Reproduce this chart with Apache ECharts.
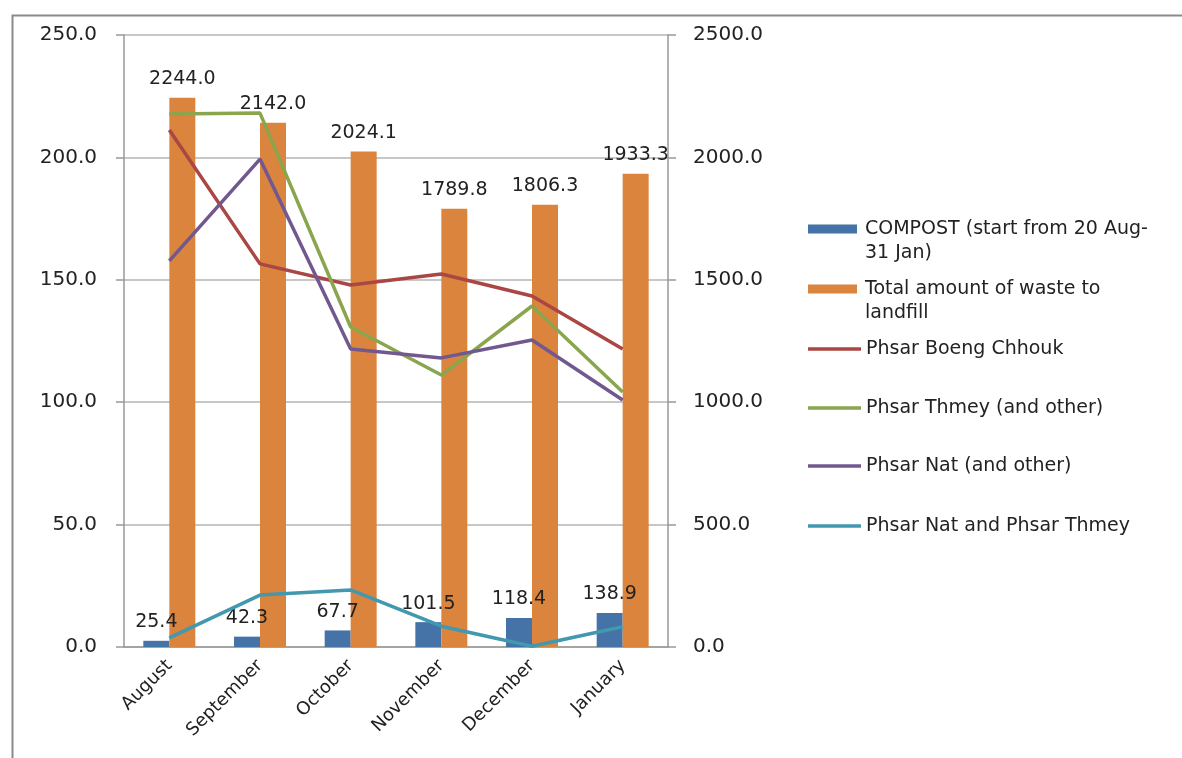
<!DOCTYPE html>
<html>
<head>
<meta charset="utf-8">
<script src="https://cdn.jsdelivr.net/npm/echarts@6/dist/echarts.min.js"></script>
<style>html,body{margin:0;padding:0;background:#fff;}#chart{width:1182px;height:758px;}</style>
</head>
<body>
<div id="chart"></div>
<script>
const months = ['August', 'September', 'October', 'November', 'December', 'January'];
const compost = [25.4, 42.3, 67.7, 101.5, 118.4, 138.9];
const totalLandfill = [2244.0, 2142.0, 2024.1, 1789.8, 1806.3, 1933.3];
const boengChhouk = [211.2, 156.5, 147.9, 152.4, 143.4, 121.7];
const thmey = [217.7, 218.1, 130.7, 111.1, 139.3, 104.2];
const nat = [157.7, 199.3, 121.7, 118.1, 125.4, 100.9];
const natAndThmey = [3.7, 21.2, 23.3, 8.5, 0.3, 8.3];
const leftTicks = { min: 0, max: 250, interval: 50 };
const rightTicks = { min: 0, max: 2500, interval: 500 };

const names = {
  compost: 'COMPOST (start from 20 Aug-31 Jan)',
  total: 'Total amount of waste to landfill',
  boeng: 'Phsar Boeng Chhouk',
  thmey: 'Phsar Thmey (and other)',
  nat: 'Phsar Nat (and other)',
  natThmey: 'Phsar Nat and Phsar Thmey'
};
const colors = {
  compost: '#4572A7', total: '#DB843D', boeng: '#AA4643',
  thmey: '#89A54E', nat: '#71588F', natThmey: '#4198AF'
};
const FONT = 'DejaVu Sans';

function legendAt(name, top, isBar, fmt) {
  return {
    data: [{ name: name, icon: 'rect' }],
    left: 808, top: top, orient: 'vertical', padding: 0,
    itemWidth: isBar ? 49 : 53, itemHeight: isBar ? 9 : 3.5,
    selectedMode: false,
    formatter: fmt || '{name}',
    textStyle: { fontFamily: FONT, fontSize: 19, color: '#222', lineHeight: 24, padding: isBar ? [0, 0, 0, 3] : 0 }
  };
}

const chart = echarts.init(document.getElementById('chart'));
chart.setOption({
  animation: false,
  backgroundColor: '#fff',
  graphic: [{
    type: 'rect', left: 10, top: 13, z: -1,
    shape: { width: 1220, height: 800 },
    style: { fill: 'none', stroke: '#8a8a8a', lineWidth: 2 }
  }],
  grid: { left: 124, right: 514, top: 35, bottom: 111, containLabel: false },
  legend: [
    legendAt(names.compost, 193, true, function () { return ' \nCOMPOST (start from 20 Aug-\n31 Jan)'; }),
    legendAt(names.total, 253, true, function () { return ' \nTotal amount of waste to\nlandfill'; }),
    legendAt(names.boeng, 337, false),
    legendAt(names.thmey, 396, false),
    legendAt(names.nat, 454, false),
    legendAt(names.natThmey, 514, false)
  ],
  xAxis: {
    type: 'category', data: months,
    axisLine: { lineStyle: { color: '#999', width: 1.5 } },
    axisTick: { length: 8, lineStyle: { color: '#999', width: 1.5 } },
    axisLabel: { rotate: 45, fontFamily: FONT, fontSize: 18, color: '#222', margin: 16 }
  },
  yAxis: [{
    type: 'value', min: leftTicks.min, max: leftTicks.max, interval: leftTicks.interval, position: 'left',
    axisLine: { show: true, lineStyle: { color: '#999', width: 1.5 } },
    axisTick: { show: true, length: 8, lineStyle: { color: '#999', width: 1.5 } },
    splitLine: { lineStyle: { color: '#b4b4b4', width: 1.5 } },
    axisLabel: { formatter: v => v.toFixed(1), fontFamily: FONT, fontSize: 20, color: '#222', margin: 27 }
  }, {
    type: 'value', min: rightTicks.min, max: rightTicks.max, interval: rightTicks.interval, position: 'right',
    axisLine: { show: true, lineStyle: { color: '#999', width: 1.5 } },
    axisTick: { show: true, length: 8, lineStyle: { color: '#999', width: 1.5 } },
    splitLine: { show: false },
    axisLabel: { formatter: v => v.toFixed(1), fontFamily: FONT, fontSize: 20, color: '#222', margin: 25 }
  }],
  series: [{
    name: names.compost, type: 'bar', yAxisIndex: 1, data: compost,
    barWidth: 26, barGap: '0%', itemStyle: { color: colors.compost },
    label: { show: true, position: 'top', distance: 9, formatter: p => p.value.toFixed(1),
      fontFamily: FONT, fontSize: 19, color: '#222' }
  }, {
    name: names.total, type: 'bar', yAxisIndex: 1, data: totalLandfill,
    barWidth: 26, barGap: '0%', itemStyle: { color: colors.total },
    label: { show: true, position: 'top', distance: 9, formatter: p => p.value.toFixed(1),
      fontFamily: FONT, fontSize: 19, color: '#222' }
  }, {
    name: names.boeng, type: 'line', yAxisIndex: 0, data: boengChhouk, symbol: 'none',
    lineStyle: { color: colors.boeng, width: 3.5 }, itemStyle: { color: colors.boeng }
  }, {
    name: names.thmey, type: 'line', yAxisIndex: 0, data: thmey, symbol: 'none',
    lineStyle: { color: colors.thmey, width: 3.5 }, itemStyle: { color: colors.thmey }
  }, {
    name: names.nat, type: 'line', yAxisIndex: 0, data: nat, symbol: 'none',
    lineStyle: { color: colors.nat, width: 3.5 }, itemStyle: { color: colors.nat }
  }, {
    name: names.natThmey, type: 'line', yAxisIndex: 0, data: natAndThmey, symbol: 'none',
    lineStyle: { color: colors.natThmey, width: 3.5 }, itemStyle: { color: colors.natThmey }
  }]
});
</script>
</body>
</html>
